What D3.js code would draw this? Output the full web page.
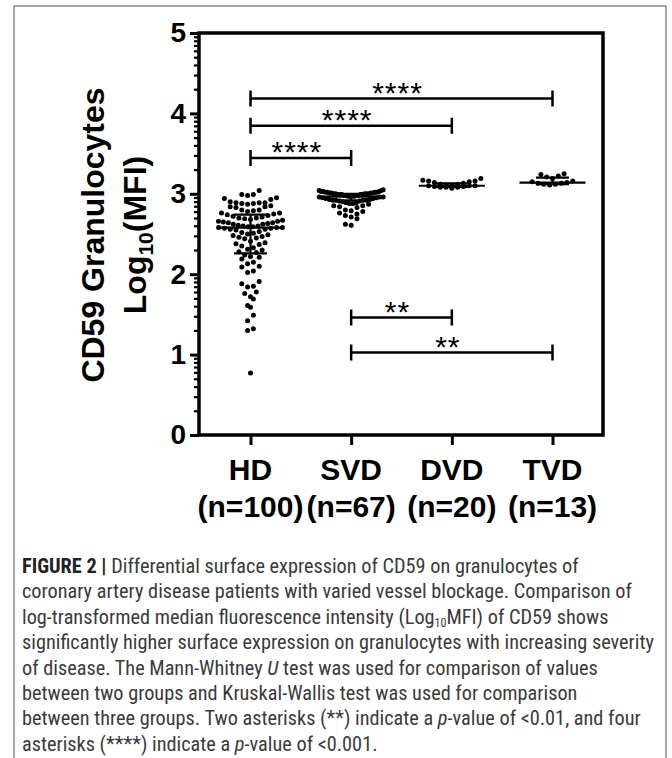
<!DOCTYPE html>
<html>
<head>
<meta charset="utf-8">
<script src="https://cdn.jsdelivr.net/npm/d3@7"></script>
<style>
  body { margin: 0; background: #fff; }
  svg { display: block; }
</style>
</head>
<body>
<div id="chart"></div>
<script>
// groups and their sizes
var groups = ["HD", "SVD", "DVD", "TVD"];
var groupN = ["(n=100)", "(n=67)", "(n=20)", "(n=13)"];

// Log10(MFI) values
var hdValues = [3.04, 2.99, 2.98, 2.99, 2.94, 2.93, 2.95, 2.89, 2.88, 2.89, 2.90, 2.88, 2.89, 2.87,
  2.84, 2.83, 2.85, 2.84, 2.80, 2.79, 2.78, 2.80, 2.76, 2.75, 2.76,
  2.74, 2.73, 2.72, 2.71, 2.70, 2.70, 2.69, 2.68, 2.67, 2.66, 2.66, 2.65, 2.64, 2.64, 2.63,
  2.62, 2.62, 2.61, 2.60, 2.60, 2.59, 2.59, 2.58, 2.58, 2.58,
  2.57, 2.57, 2.56, 2.56, 2.55, 2.53, 2.52, 2.51, 2.50, 2.49, 2.48, 2.47, 2.46, 2.45, 2.44,
  2.41, 2.39, 2.38, 2.37, 2.35, 2.33, 2.31, 2.30, 2.28, 2.27,
  2.24, 2.22, 2.21, 2.19, 2.15, 2.13, 2.10, 2.09, 2.04, 2.02, 1.91, 1.88, 1.85, 1.84,
  1.78, 1.76, 1.72, 1.69, 1.61, 1.59, 1.49, 1.42, 1.32, 1.30, 0.77];
var svdValues = [3.05, 3.04, 3.04, 3.03, 3.03, 3.03, 3.02, 3.02, 3.02, 3.02, 3.01, 3.01, 3.01, 3.01,
  3.00, 3.00, 3.00, 3.00, 3.00, 2.99, 2.99, 2.99, 2.99, 2.99, 2.98, 2.98, 2.98, 2.98,
  2.97, 2.97, 2.97, 2.97, 2.96, 2.96, 2.96, 2.95, 2.95, 2.94, 2.94, 2.93, 2.93,
  2.92, 2.92, 2.92, 2.92, 2.91, 2.91, 2.90, 2.89, 2.89, 2.88, 2.88, 2.87,
  2.85, 2.85, 2.84, 2.83, 2.80, 2.79, 2.78, 2.76, 2.75, 2.73, 2.71, 2.69, 2.62, 2.61];
var dvdValues = [3.19, 3.17, 3.16, 3.16, 3.15, 3.14, 3.13, 3.12, 3.12, 3.11, 3.11, 3.10, 3.10, 3.10,
  3.09, 3.09, 3.08, 3.08, 3.08, 3.07];
var tvdValues = [3.25, 3.24, 3.22, 3.21, 3.19, 3.16, 3.15, 3.14, 3.13, 3.13, 3.12, 3.12, 3.11];

// median and interquartile range shown by the error bars
var medians = [2.58, 2.965, 3.10, 3.14];
var q1 = [2.26, 2.92, 3.085, 3.12];
var q3 = [2.74, 3.00, 3.13, 3.20];

// significance brackets
var compFrom = ["HD", "HD", "HD", "SVD", "SVD"];
var compTo = ["SVD", "DVD", "TVD", "DVD", "TVD"];
var compY = [3.445, 3.845, 4.185, 1.46, 1.025];
var compLabel = ["****", "****", "****", "**", "**"];

var yTicks = [0, 1, 2, 3, 4, 5];

// caption lines
var captionLines = [
  [["FIGURE 2 | ", "b"], ["Differential surface expression of CD59 on granulocytes of", ""]],
  [["coronary artery disease patients with varied vessel blockage. Comparison of", ""]],
  [["log-transformed median fluorescence intensity (Log", ""], ["10", "sub"], ["MFI) of CD59 shows", ""]],
  [["significantly higher surface expression on granulocytes with increasing severity", ""]],
  [["of disease. The Mann-Whitney ", ""], ["U", "i"], [" test was used for comparison of values", ""]],
  [["between two groups and Kruskal-Wallis test was used for comparison", ""]],
  [["between three groups. Two asterisks (**) indicate a ", ""], ["p", "i"], ["-value of <0.01, and four", ""]],
  [["asterisks (****) indicate a ", ""], ["p", "i"], ["-value of <0.001.", ""]]
];

var width = 672, height = 758;
var allValues = [hdValues, svdValues, dvdValues, tvdValues];

var svg = d3.select("#chart").append("svg")
  .attr("width", width)
  .attr("height", height);

// grey page frame
svg.append("path")
  .attr("d", "M14,758 V6 H666 V758")
  .attr("fill", "none")
  .attr("stroke", "#8a8a8a")
  .attr("stroke-width", 1.5);

var plot = { left: 199, right: 603, top: 33, bottom: 435 };

var y = d3.scaleLinear().domain([0, 5]).range([plot.bottom, plot.top]);
var x = d3.scalePoint().domain(groups).range([250.5, 552.5]);

var boldFont = "Arial, 'Liberation Sans', Helvetica, sans-serif";

// minor ticks, log spaced inside each unit
var minorTicks = [];
for (var i = 0; i < 5; i++) {
  for (var k = 2; k <= 9; k++) minorTicks.push(i + Math.log10(k));
}

svg.append("g")
  .attr("transform", "translate(" + plot.left + ",0)")
  .call(d3.axisLeft(y).tickValues(minorTicks).tickSize(5).tickFormat(""))
  .call(function(g) { g.select(".domain").remove(); })
  .selectAll("line").attr("stroke", "#000").attr("stroke-width", 2.2);

var yAxis = svg.append("g")
  .attr("transform", "translate(" + plot.left + ",0)")
  .call(d3.axisLeft(y).tickValues(yTicks).tickSize(9).tickPadding(4).tickFormat(d3.format("d")));
yAxis.select(".domain").remove();
yAxis.selectAll("line").attr("stroke", "#000").attr("stroke-width", 3);
yAxis.selectAll("text")
  .attr("font-family", boldFont)
  .attr("font-weight", "bold")
  .attr("font-size", 28)
  .attr("fill", "#000");

var xAxis = svg.append("g")
  .attr("transform", "translate(0," + plot.bottom + ")")
  .call(d3.axisBottom(x).tickSize(10).tickFormat(""));
xAxis.select(".domain").remove();
xAxis.selectAll("line").attr("stroke", "#000").attr("stroke-width", 3);

// plot frame
svg.append("rect")
  .attr("x", plot.left)
  .attr("y", plot.top)
  .attr("width", plot.right - plot.left)
  .attr("height", plot.bottom - plot.top)
  .attr("fill", "none")
  .attr("stroke", "#000")
  .attr("stroke-width", 3.5);

// x labels, two lines
var xLabels = svg.append("g")
  .attr("font-family", boldFont)
  .attr("font-weight", "bold")
  .attr("font-size", 30)
  .attr("text-anchor", "middle");
xLabels.selectAll(".g1").data(groups).enter().append("text")
  .attr("x", function(d) { return x(d); })
  .attr("y", 480)
  .text(function(d) { return d; });
xLabels.selectAll(".g2").data(groupN).enter().append("text")
  .attr("x", function(d, i) { return x(groups[i]); })
  .attr("y", 517)
  .text(function(d) { return d; });

// y title
var yTitle = svg.append("g")
  .attr("font-family", boldFont)
  .attr("font-weight", "bold")
  .attr("font-size", 32)
  .attr("text-anchor", "middle");
yTitle.append("text")
  .attr("transform", "translate(104,235) rotate(-90)")
  .text("CD59 Granulocytes");
var t2 = yTitle.append("text")
  .attr("transform", "translate(146,235) rotate(-90)");
t2.append("tspan").text("Log");
t2.append("tspan").attr("font-size", 21).attr("dy", 7).text("10");
t2.append("tspan").attr("dy", -7).text("(MFI)");

// scatter: points binned into rows, spread sideways
var binH = 6.5, dotGap = 5.8, maxHalf = 32, dotR = 2.5;

function swarm(values, cx) {
  var pts = values.map(function(v) { return { v: v, py: y(v) }; })
    .sort(function(a, b) { return a.py - b.py; });
  var bins = [], cur = null;
  pts.forEach(function(p) {
    if (!cur || p.py - cur.start > binH) { cur = { start: p.py, pts: [] }; bins.push(cur); }
    cur.pts.push(p);
  });
  bins.forEach(function(b) {
    var n = b.pts.length;
    var s = n > 1 ? Math.min(dotGap, maxHalf * 2 / (n - 1)) : 0;
    var slots = d3.range(n).map(function(k) { return (k - (n - 1) / 2) * s; })
      .sort(function(a, c) { return Math.abs(a) - Math.abs(c) || a - c; });
    b.pts.slice().sort(function(a, c) { return c.py - a.py; })
      .forEach(function(p, j) { p.px = cx + slots[j]; });
  });
  return pts;
}

allValues.forEach(function(vals, gi) {
  var pts = swarm(vals, x(groups[gi]));
  svg.append("g").selectAll("circle").data(pts).enter().append("circle")
    .attr("cx", function(d) { return d.px; })
    .attr("cy", function(d) { return d.py; })
    .attr("r", dotR)
    .attr("fill", "#000");
});

// median + IQR bars
var bars = svg.append("g").attr("stroke", "#000").attr("stroke-width", 2.2);
groups.forEach(function(g, i) {
  var cx = x(g);
  bars.append("line").attr("x1", cx - 33).attr("x2", cx + 33)
    .attr("y1", y(medians[i])).attr("y2", y(medians[i]));
  bars.append("line").attr("x1", cx).attr("x2", cx)
    .attr("y1", y(q1[i])).attr("y2", y(q3[i]));
  [q1[i], q3[i]].forEach(function(q) {
    bars.append("line").attr("x1", cx - 16.5).attr("x2", cx + 16.5)
      .attr("y1", y(q)).attr("y2", y(q));
  });
});

// significance brackets
var br = svg.append("g");
compFrom.forEach(function(f, i) {
  var x1 = x(f), x2 = x(compTo[i]), yy = y(compY[i]);
  br.append("path")
    .attr("d", "M" + x1 + "," + (yy - 8) + "V" + (yy + 8) + "M" + x1 + "," + yy + "H" + x2 +
      "M" + x2 + "," + (yy - 8) + "V" + (yy + 8))
    .attr("fill", "none")
    .attr("stroke", "#000")
    .attr("stroke-width", 2.5);
  br.append("text")
    .attr("x", (x1 + x2) / 2 - 4)
    .attr("y", yy + 4)
    .attr("text-anchor", "middle")
    .attr("font-family", boldFont)
    .attr("font-size", 30)
    .attr("letter-spacing", 1)
    .text(compLabel[i]);
});

// caption
var cap = svg.append("g")
  .attr("font-family", "'Liberation Sans Narrow', 'Arial Narrow', 'Roboto Condensed', 'Liberation Sans', sans-serif")
  .attr("font-size", 20.3)
  .attr("fill", "#3a3a3a");
captionLines.forEach(function(parts, li) {
  var t = cap.append("text").attr("x", 22).attr("y", 573 + li * 25.4);
  parts.forEach(function(p) {
    var s = t.append("tspan").text(p[0]);
    if (p[1] === "b") s.attr("font-weight", "bold").attr("fill", "#222");
    if (p[1] === "i") s.attr("font-style", "italic");
    if (p[1] === "sub") {
      s.attr("font-size", 12).attr("dy", 3.5);
    }
  });
  // undo subscript shift for following text
  t.selectAll("tspan").each(function(d, j) {
    if (j > 0 && parts[j - 1][1] === "sub") d3.select(this).attr("dy", -3.5);
  });
});
</script>
</body>
</html>
